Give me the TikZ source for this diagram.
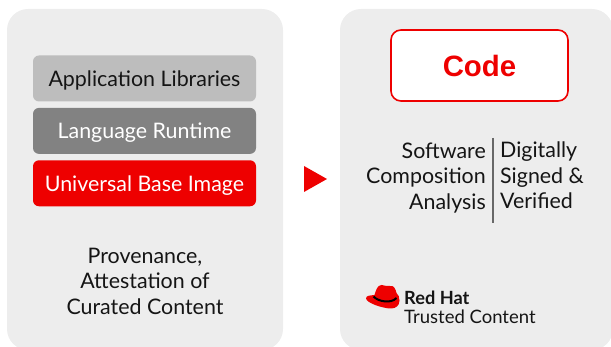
\documentclass[tikz,border=0pt]{standalone}
\usepackage{fontspec}
\setmainfont{Lato}
\newfontfamily\codefont{Liberation Sans}
\usetikzlibrary{positioning}
\definecolor{panelgrey}{HTML}{EDEDED}
\definecolor{libgrey}{HTML}{BDBDBD}
\definecolor{rungrey}{HTML}{828282}
\definecolor{rhred}{HTML}{EE0000}
\definecolor{inkblack}{HTML}{151515}
\tikzset{
    panel/.style={fill=panelgrey,draw=none,rounded corners=21pt},
    layer/.style={rounded corners=6pt,minimum width=223pt,minimum height=46pt,inner sep=0,text height=17pt,text depth=1pt,font=\fontsize{21.4}{24}\selectfont},
    body/.style={inner sep=0,text=inkblack,font=\fontsize{21.4}{25.5}\selectfont},
}
\begin{document}
\begin{tikzpicture}[x=1pt,y=-1pt]
    \useasboundingbox(0,0)rectangle(611,347);
    % panels
    \fill[panel](7,9)rectangle(283,350);
    \fill[panel](340,9)rectangle(613,350);
    % left stack
    \node[layer,fill=libgrey,text=inkblack](libs)at(144.5,78.5){Application Libraries};
    \node[layer,fill=rungrey,text=white,below=6pt of libs](runtime){Language Runtime};
    \node[layer,fill=rhred,text=white,below=6pt of runtime](ubi){Universal Base Image};
    \node[body,align=center](prov)at(145,281){Provenance,\\Attestation of\\Curated Content};
    % arrow
    \fill[rhred](304,166)--(327,179)--(304,192)--cycle;
    % right panel
    \node[draw=rhred,line width=1.6pt,fill=white,rounded corners=10pt,minimum width=177pt,minimum height=71pt,inner sep=0,text=rhred,font=\codefont\bfseries\fontsize{29.4}{32}\selectfont](code)at(479.5,65.5){Code};
    \coordinate(splittop)at(493,138);
    \coordinate(splitbot)at(493,223);
    \draw[rungrey!80!black,line width=1.2pt](splittop)--(splitbot);
    \node[body,align=right,anchor=east](sca)at(486,178){Software\\Composition\\Analysis};
    \node[body,align=left,anchor=west](signed)at(500,175.5){Digitally\\Signed \&\\Verified};
    % logo
    \fill[rhred](366,298.5)..controls(366,295.5)and(370,295.5)..(374.5,295)..controls(376,290)and(377.5,285)..(381.5,285)..controls(385,285)and(387,287)..(390,286)..controls(394,285)and(395.5,289)..(396.5,293)..controls(398.5,295)and(399.5,297)..(399.5,300.5)..controls(399.5,305.5)and(396,308.5)..(391,308.5)..controls(383,308.5)and(366.5,303)..(366,298.5)--cycle;
    \draw[black,line width=2pt](373.5,296.5)..controls(378,301.5)and(391,304)..(396.5,298);
    \node[inner sep=0,anchor=west,text=inkblack,font=\bfseries\fontsize{18.2}{20}\selectfont](redhat)at(404,298){Red Hat};
    \node[inner sep=0,anchor=west,text=inkblack,font=\fontsize{18.5}{20}\selectfont](trusted)at(404,317){Trusted Content};
\end{tikzpicture}
\end{document}
